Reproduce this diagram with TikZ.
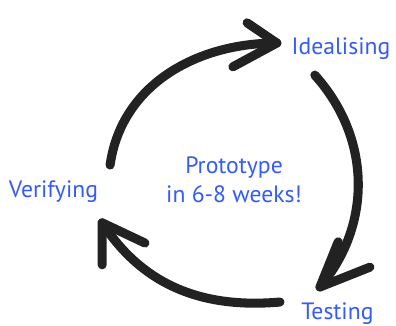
\documentclass[tikz,border=0pt]{standalone}
\usepackage{fontspec}
\setsansfont{PT Sans}

\definecolor{stageblue}{RGB}{52,92,245}
\definecolor{inkblack}{RGB}{34,34,34}

\tikzset{
  brush/.style={draw=inkblack,line width=6.5pt,line cap=round,line join=round},
}

\begin{document}
\begin{tikzpicture}

      \useasboundingbox (0,0) rectangle (10,8.207);

      \begin{scope}[every node/.style={text=stageblue,inner sep=0pt,anchor=base,
          font=\sffamily\fontsize{17}{21}\selectfont}]
        \node (idealising) at (8.61,6.82) {Idealising};
        \node (verifying)  at (1.35,3.21) {Verifying};
        \node (testing)    at (8.52,0.15) {Testing};
        \node[align=center,anchor=center] (prototype) at (5.91,3.66) {Prototype\\in 6-8 weeks!};
      \end{scope}

      % ends of the three strokes
      \coordinate (top-start)  at (2.78,4.04);
      \coordinate (top-tip)    at (6.99,7.12);
      \coordinate (top-barb1)  at (6.24,7.63);
      \coordinate (top-barb2)  at (5.88,6.52);

      \coordinate (right-start) at (7.95,6.31);
      \coordinate (right-tip)   at (8.08,0.96);
      \coordinate (right-barb1) at (8.54,2.10);
      \coordinate (right-barb2) at (9.34,1.46);

      \coordinate (low-start) at (7.07,0.58);
      \coordinate (low-tip)   at (2.58,2.58);
      \coordinate (low-barb1) at (2.58,1.52);
      \coordinate (low-barb2) at (3.66,2.07);

      \begin{scope}[every path/.style={brush}]
        \path (top-start) to[out=82,in=180] (top-tip);
        \path (top-barb1) -- (top-tip) -- (top-barb2);

        \path (right-start) to[out=-48,in=50] (right-tip);
        \path (right-barb1) -- (right-tip) -- (right-barb2);

        \path (low-start) to[out=185,in=-57] (low-tip);
        \path (low-barb1) -- (low-tip) -- (low-barb2);
      \end{scope}

    \end{tikzpicture}
\end{document}
